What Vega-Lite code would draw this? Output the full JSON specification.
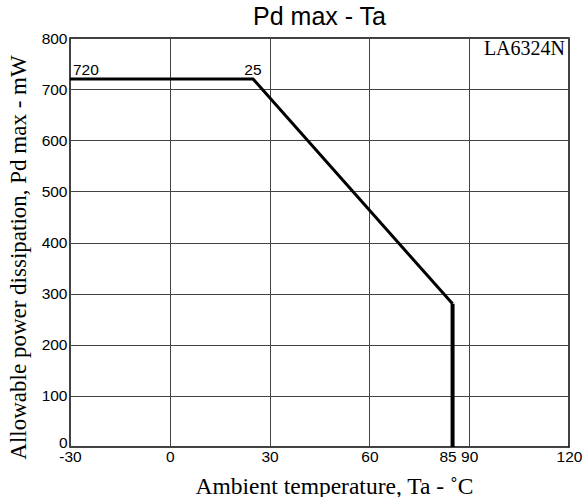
{
  "$schema": "https://vega.github.io/schema/vega-lite/v6.json",
  "autosize": "none",
  "width": 499,
  "height": 409,
  "padding": {"left": 70, "top": 38, "right": 14, "bottom": 50},
  "background": "white",
  "title": {
    "text": "Pd max - Ta",
    "font": "Liberation Sans",
    "fontSize": 25,
    "fontWeight": "normal",
    "color": "black",
    "anchor": "middle",
    "baseline": "alphabetic",
    "offset": 0,
    "dy": 19
  },
  "config": {
    "view": {"stroke": "black", "strokeWidth": 1.5},
    "axis": {
      "domain": false,
      "ticks": false,
      "tickSize": 0,
      "grid": true,
      "gridColor": "#444444",
      "gridWidth": 1,
      "gridOpacity": 1,
      "labelFont": "Liberation Sans",
      "labelFontSize": 15.5,
      "labelColor": "black",
      "titleFont": "Liberation Serif",
      "titleFontSize": 23.5,
      "titleFontWeight": "normal",
      "titleColor": "black"
    }
  },
  "layer": [
    {
      "data": {
        "values": [
          {"ta": -30, "pd": 720},
          {"ta": 25, "pd": 720},
          {"ta": 85, "pd": 280}
        ]
      },
      "mark": {"type": "line", "color": "black", "strokeWidth": 3, "strokeJoin": "miter"},
      "encoding": {
        "x": {
          "field": "ta",
          "type": "quantitative",
          "scale": {"domain": [-30, 120], "nice": false, "zero": false},
          "axis": {
            "title": "Ambient temperature, Ta - ˚C",
            "values": [-30, 0, 30, 60, 85, 90, 120],
            "labelExpr": "'' + datum.value",
            "labelPadding": 2,
            "labelFlush": false,
            "labelOverlap": false,
            "labelOffset": {"condition": {"test": "datum.value == 85", "value": -5}, "value": 0},
            "gridOpacity": {"condition": {"test": "datum.value == 85", "value": 0}, "value": 1},
            "titleX": 264,
            "titleY": 46,
            "titleBaseline": "alphabetic"
          }
        },
        "y": {
          "field": "pd",
          "type": "quantitative",
          "scale": {"domain": [0, 800], "nice": false},
          "axis": {
            "title": "Allowable power dissipation, Pd max - mW",
            "values": [0, 100, 200, 300, 400, 500, 600, 700, 800],
            "labelPadding": 3,
            "labelFlush": false,
            "labelOverlap": false,
            "labelBaseline": {"condition": {"test": "datum.value == 0", "value": "alphabetic"}, "value": "middle"},
            "titleFontSize": 23,
            "titleX": -45,
            "titleY": 219,
            "titleBaseline": "alphabetic"
          }
        }
      }
    },
    {
      "data": {"values": [{"ta": 85, "pd": 280, "pd0": 0}]},
      "mark": {"type": "rule", "color": "black", "strokeWidth": 4},
      "encoding": {
        "x": {"field": "ta", "type": "quantitative"},
        "y": {"field": "pd", "type": "quantitative"},
        "y2": {"field": "pd0"}
      }
    },
    {
      "data": {"values": [{"ta": -30, "pd": 720, "label": "720"}]},
      "mark": {"type": "text", "font": "Liberation Sans", "fontSize": 15.5, "align": "left", "baseline": "alphabetic", "dx": 3, "dy": -4, "color": "black"},
      "encoding": {
        "x": {"field": "ta", "type": "quantitative"},
        "y": {"field": "pd", "type": "quantitative"},
        "text": {"field": "label"}
      }
    },
    {
      "data": {"values": [{"ta": 25, "pd": 720, "label": "25"}]},
      "mark": {"type": "text", "font": "Liberation Sans", "fontSize": 15.5, "align": "center", "baseline": "alphabetic", "dy": -4, "color": "black"},
      "encoding": {
        "x": {"field": "ta", "type": "quantitative"},
        "y": {"field": "pd", "type": "quantitative"},
        "text": {"field": "label"}
      }
    },
    {
      "data": {"values": [{"ta": 120, "pd": 800, "label": "LA6324N"}]},
      "mark": {"type": "text", "font": "Liberation Serif", "fontSize": 20, "align": "right", "baseline": "top", "dx": -4, "dy": 1, "color": "black"},
      "encoding": {
        "x": {"field": "ta", "type": "quantitative"},
        "y": {"field": "pd", "type": "quantitative"},
        "text": {"field": "label"}
      }
    }
  ]
}
